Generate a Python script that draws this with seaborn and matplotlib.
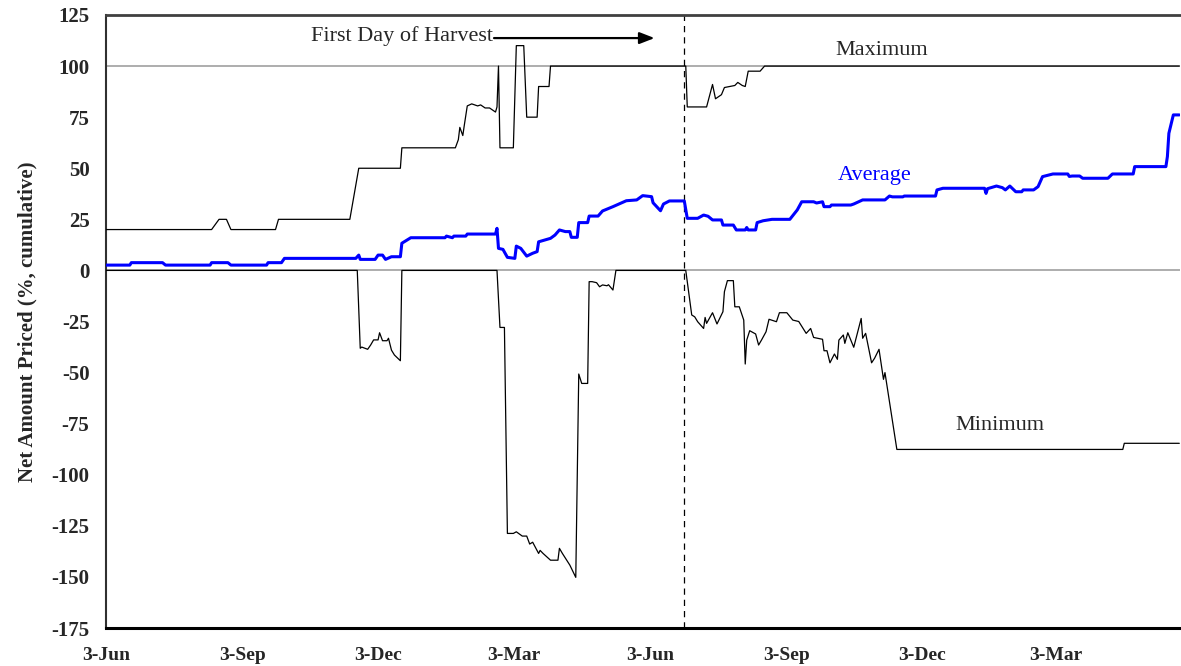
import pandas as pd
import numpy as np
import matplotlib
matplotlib.use("Agg")
import matplotlib.pyplot as plt
import matplotlib.dates as mdates
import seaborn as sns

# --- DATOS (días desde el 3-Jun) ---
inicio = pd.Timestamp("2003-06-03")
dia_cosecha = 389

max_dias = [0, 71, 76, 81, 84, 114, 116, 164, 170, 198, 199, 235, 237, 238, 240, 241,
            243, 246, 250, 252, 255, 258, 262, 263, 264, 265, 274, 276, 281, 283, 290,
            291, 298, 299, 390, 391, 404, 408, 410, 414, 416, 423, 425, 428, 430, 432,
            440, 443, 722]
max_vals = [20, 20, 25, 25, 20, 20, 25, 25, 50, 50, 60, 60, 64, 70, 66, 71,
            80.5, 81.5, 80.5, 81, 79.5, 79.5, 77.5, 80, 100, 60, 60, 110, 110, 75, 75,
            90, 90, 100, 100, 80, 80, 91, 84, 86, 89.5, 90.5, 92, 90.5, 90, 97.5,
            97.5, 100, 100]

prom_dias = [0, 16, 17, 38, 40, 70, 71, 82, 84, 108, 109, 118, 120, 168, 170, 171,
             181, 183, 186, 188, 192, 198, 199, 205, 228, 229, 233, 234, 242, 243, 262,
             263, 264, 267, 270, 275, 276, 279, 283, 287, 290, 291, 299, 302, 305, 309,
             312, 313, 317, 318, 324, 325, 331, 334, 341, 346, 350, 357, 361, 367, 368,
             373, 375, 379, 389, 391, 398, 402, 405, 408, 414, 415, 422, 424, 430, 431,
             432, 437, 438, 442, 448, 460, 465, 468, 476, 478, 482, 483, 487, 488, 501,
             503, 509, 524, 527, 529, 536, 537, 558, 559, 563, 591, 592, 593, 599, 603,
             605, 608, 612, 616, 617, 624, 627, 630, 637, 647, 648, 650, 655, 657, 674,
             677, 691, 692, 713, 714, 715, 718, 722]
prom_vals = [2.6, 2.6, 3.8, 3.8, 2.6, 2.6, 3.8, 3.8, 2.6, 2.6, 3.8, 3.8, 5.9, 5.9, 7.5, 5.4,
             5.4, 7.5, 7.5, 5.4, 6.7, 6.7, 13.3, 16, 16, 16.8, 16, 16.8, 16.8, 17.8, 17.8,
             20.6, 10.8, 10.3, 6.4, 5.9, 11.9, 10.8, 7, 8.4, 9.2, 14, 15.7, 17.3, 19.8, 19,
             19, 16.2, 16.2, 23.4, 23.4, 26.6, 26.6, 29.1, 31.2, 32.8, 34.1, 34.5, 36.6, 36.1, 33.1,
             29.2, 32.5, 34, 34, 25.5, 25.5, 27.1, 26.5, 24.7, 24.7, 22.2, 22.2, 19.8, 19.8, 21,
             19.8, 19.8, 23.4, 24.3, 25, 25, 29.6, 33.6, 33.6, 33, 33.6, 31.2, 31.2, 32, 32,
             32.5, 34.5, 34.5, 36.4, 36, 36, 36.4, 36.4, 39.4, 40.2, 40.2, 37.7, 40, 41.3, 40.5,
             39.4, 41.3, 38.5, 38.5, 39.4, 39.4, 41, 45.9, 47.2, 47.2, 46, 46.2, 46.2, 45.1, 45.1,
             47.2, 47.2, 50.8, 50.8, 55.7, 67.1, 76.1, 76.1]

min_dias = [0, 169, 171, 172, 176, 178, 180, 183, 184, 186, 189, 190, 192, 194, 198, 199,
            263, 265, 268, 270, 274, 276, 280, 283, 285, 287, 291, 292, 294, 299, 304,
            305, 307, 312, 316, 318, 320, 324, 325, 327, 330, 332, 334, 337, 338, 341,
            343, 390, 394, 396, 398, 402, 403, 404, 408, 411, 415, 416, 418, 422, 423,
            426, 429, 430, 431, 433, 437, 439, 441, 444, 446, 451, 453, 458, 462, 466,
            471, 474, 476, 482, 483, 485, 487, 490, 492, 493, 496, 497, 499, 503, 508,
            509, 511, 515, 517, 520, 523, 524, 532, 684, 685, 722]
min_vals = [0, 0, -38.1, -37.5, -38.6, -36.5, -34, -34, -30.5, -34.4, -34.4, -33.2, -39, -41.4, -44.2, 0,
            0, -27.9, -27.9, -128.7, -128.7, -127.9, -130, -130, -133.9, -133, -138.5, -137, -138.5, -141.8, -141.8,
            -136, -138.5, -144.2, -150.2, -50.7, -55.3, -55.3, -5.5, -5.5, -6, -8, -7.1, -7.5, -7, -9.6,
            0, 0, -21.8, -22.7, -25.1, -28.4, -23, -25.9, -20.7, -26.2, -20.2, -10.4, -5, -5, -17.8,
            -17.8, -24.3, -45.8, -34.1, -29.5, -31.1, -36.5, -34, -30, -23.9, -25.1, -20.7, -20.7, -24.3, -25,
            -30.8, -28.4, -32.8, -33.7, -39.3, -39.3, -45.2, -40.9, -43.5, -34.1, -31.6, -35.7, -30.5, -37.6, -23.5,
            -33.2, -30.8, -45.2, -43, -38.6, -53.3, -50, -87.6, -87.6, -84.6, -84.6]

ticks_x = ["2003-06-03", "2003-09-03", "2003-12-03", "2004-03-03",
           "2004-06-03", "2004-09-03", "2004-12-03", "2005-03-03"]
ticks_y = list(range(-175, 126, 25))


def a_fechas(dias):
    return inicio + pd.to_timedelta(dias, unit="D")


df_max = pd.DataFrame({"Fecha": a_fechas(max_dias), "Valor": max_vals})
df_prom = pd.DataFrame({"Fecha": a_fechas(prom_dias), "Valor": prom_vals})
df_min = pd.DataFrame({"Fecha": a_fechas(min_dias), "Valor": min_vals})

# --- ESTILO ---
sns.set_style("white")
plt.rcParams["font.family"] = ["Liberation Serif", "DejaVu Serif"]
plt.rcParams["axes.unicode_minus"] = False

fig = plt.figure(figsize=(11.81, 6.66), dpi=100)
ax = fig.add_axes([0.0898, 0.057, 0.9095, 0.9205])

ax.axhline(100, color="#a0a0a0", lw=1.2, zorder=1)
ax.axhline(0, color="#a0a0a0", lw=1.2, zorder=1)

sns.lineplot(data=df_max, x="Fecha", y="Valor", ax=ax, color="black", lw=0.9,
             estimator=None, sort=False, zorder=3)
sns.lineplot(data=df_min, x="Fecha", y="Valor", ax=ax, color="black", lw=0.9,
             estimator=None, sort=False, zorder=3)
sns.lineplot(data=df_prom, x="Fecha", y="Valor", ax=ax, color="#0000ff", lw=2.2,
             estimator=None, sort=False, zorder=4)

ax.axvline(a_fechas(dia_cosecha), color="black", ls=(0, (5, 4)), lw=0.9, zorder=2)

# --- EJES ---
ax.set_xlim(inicio, a_fechas(722.6))
ax.set_ylim(-175, 125)
ax.set_yticks(ticks_y)
ax.set_xticks(pd.to_datetime(ticks_x))
ax.xaxis.set_major_formatter(mdates.DateFormatter("%-d-%b"))
ax.tick_params(axis="x", length=5, width=1, color="#404040", pad=9, labelsize=14)
ax.tick_params(axis="y", length=0, pad=12, labelsize=15)
for lab in ax.get_xticklabels() + ax.get_yticklabels():
    lab.set_fontweight("bold")

ax.set_xlabel("")
ax.set_ylabel("Net Amount Priced (%, cumulative)", fontsize=15, fontweight="bold", labelpad=10)

ax.spines["left"].set_color("#303030")
ax.spines["left"].set_linewidth(1.5)
ax.spines["bottom"].set_color("black")
ax.spines["bottom"].set_linewidth(2.2)
ax.spines["top"].set_color("#404040")
ax.spines["top"].set_linewidth(2)
ax.spines["right"].set_visible(False)

# --- ANOTACIONES ---
ax.annotate("", xy=(a_fechas(369), 113.7), xytext=(a_fechas(261), 113.7),
            arrowprops=dict(arrowstyle="-|>,head_length=0.9,head_width=0.35",
                            color="black", lw=1.6, shrinkA=0, shrinkB=0))
ax.text(a_fechas(260), 114.7, "First Day of Harvest", ha="right", va="center", fontsize=16)
ax.text(a_fechas(522), 107.5, "Maximum", ha="center", va="center", fontsize=16)
ax.text(a_fechas(517), 46.5, "Average", ha="center", va="center", fontsize=16, color="#0000ff")
ax.text(a_fechas(601), -76, "Minimum", ha="center", va="center", fontsize=16)

fig.savefig("out.png", dpi=100)
